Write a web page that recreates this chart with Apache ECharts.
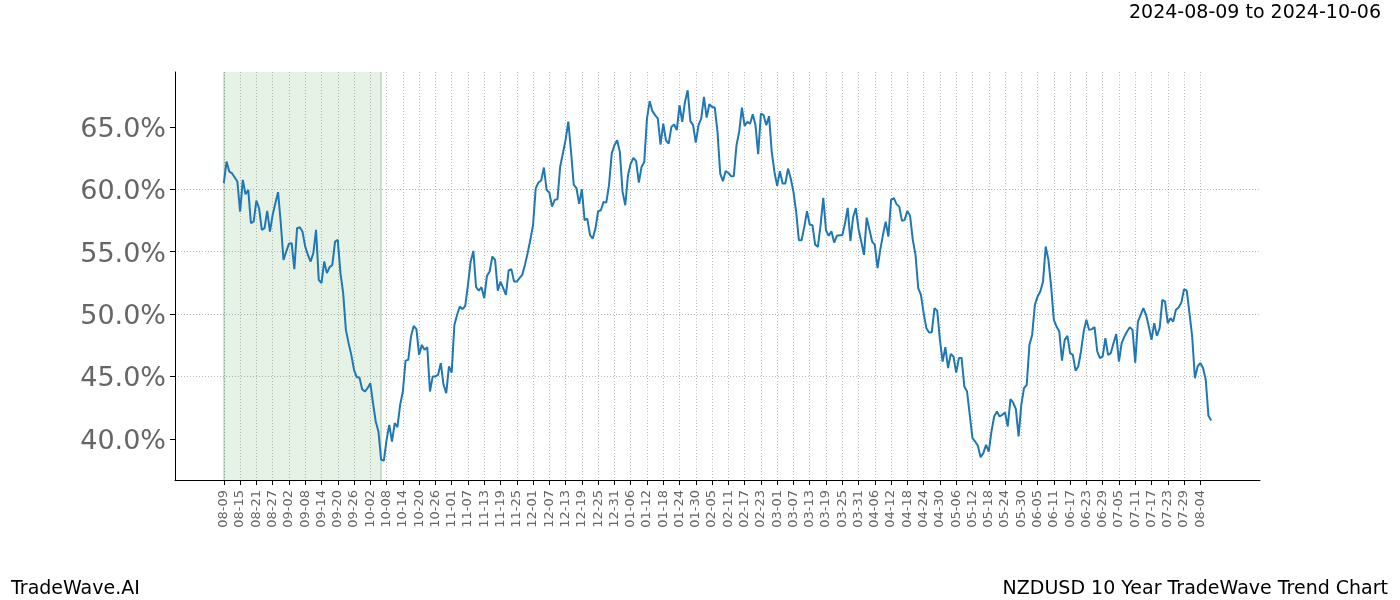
<!DOCTYPE html>
<html>
<head>
<meta charset="utf-8">
<script src="https://cdn.jsdelivr.net/npm/echarts@6/dist/echarts.min.js"></script>
<style>html,body{margin:0;padding:0;background:#fff}#c{width:1400px;height:600px}</style>
</head>
<body>
<div id="c"></div>
<script>
// Axis range (calendar days, with margins before/after the data)
const axisStart = '2024-07-22';
const axisEnd = '2025-08-26';
const dataStart = '2024-08-09';
const bandStart = '2024-08-09';
const bandEnd = '2024-10-06';

// Tick labels on the x axis (every 6 days)
const tickDates = [
 '2024-08-09','2024-08-15','2024-08-21','2024-08-27','2024-09-02','2024-09-08','2024-09-14','2024-09-20','2024-09-26',
 '2024-10-02','2024-10-08','2024-10-14','2024-10-20','2024-10-26','2024-11-01','2024-11-07','2024-11-13','2024-11-19',
 '2024-11-25','2024-12-01','2024-12-07','2024-12-13','2024-12-19','2024-12-25','2024-12-31','2025-01-06','2025-01-12',
 '2025-01-18','2025-01-24','2025-01-30','2025-02-05','2025-02-11','2025-02-17','2025-02-23','2025-03-01','2025-03-07',
 '2025-03-13','2025-03-19','2025-03-25','2025-03-31','2025-04-06','2025-04-12','2025-04-18','2025-04-24','2025-04-30',
 '2025-05-06','2025-05-12','2025-05-18','2025-05-24','2025-05-30','2025-06-05','2025-06-11','2025-06-17','2025-06-23',
 '2025-06-29','2025-07-05','2025-07-11','2025-07-17','2025-07-23','2025-07-29','2025-08-04'
];

// Y tick labels
const yTicks = [40, 45, 50, 55, 60, 65];

// Daily trend values (%) from 2024-08-09
const values = [
 60.49,62.22,61.42,61.29,null,60.62,58.21,60.75,59.6,59.95,
 57.28,57.41,59.09,58.48,56.75,56.88,58.27,56.61,57.95,58.88,
 59.77,57.28,54.34,55.01,55.63,55.68,53.6,56.88,56.96,56.61,
 55.41,54.74,54.21,54.88,56.75,52.74,52.48,54.21,53.28,53.76,
 53.94,55.81,55.95,53.28,51.67,48.73,47.67,46.73,45.53,44.94,
 44.91,43.98,43.79,44.06,44.46,42.86,41.39,40.59,38.32,38.26,
 39.92,41.12,39.78,41.26,40.94,42.72,43.79,46.27,46.33,48.2,
 49.05,48.79,46.73,47.53,47.13,47.35,43.79,45.0,45.0,45.13,
 46.07,44.33,43.66,45.8,45.31,49.13,49.94,50.6,50.39,50.66,
 52.34,54.21,55.06,52.15,51.88,52.15,51.27,53.06,53.41,54.61,
 54.34,51.88,52.6,52.07,51.54,53.49,53.6,52.6,52.6,52.88,
 53.14,53.94,54.88,55.95,57.15,60.09,60.54,60.7,61.74,59.95,
 59.74,58.61,59.15,59.2,61.82,62.89,63.96,65.43,63.03,60.35,
 60.09,58.83,60.0,57.52,57.65,56.32,56.05,56.85,58.24,58.32,
 58.99,58.93,60.33,62.86,63.53,63.93,63.0,59.79,58.72,61.13,
 62.06,62.52,62.25,60.54,61.79,62.2,65.67,67.06,66.26,65.94,
 65.67,63.58,65.26,63.93,63.66,65.0,65.19,64.74,66.74,65.4,
 67.0,67.94,65.46,65.14,63.74,65.14,65.67,67.4,65.75,66.82,
 66.6,66.55,64.6,61.26,60.65,61.47,61.31,61.05,61.05,63.53,
 64.6,66.55,65.08,65.4,65.26,66.02,65.14,62.81,66.07,65.94,
 65.14,65.86,63.0,61.39,60.27,61.45,60.46,60.46,61.66,60.86,
 59.79,58.19,55.92,55.92,56.99,58.24,57.17,57.12,55.57,55.38,
 57.12,59.31,56.72,56.27,56.64,55.73,56.27,56.32,56.32,57.25,
 58.51,55.86,57.76,58.49,56.8,55.81,54.74,57.73,56.8,55.81,
 55.55,53.68,55.14,56.35,57.41,56.21,59.15,59.29,58.81,58.61,
 57.47,57.55,58.27,57.87,55.95,54.74,52.07,51.54,50.07,48.87,
 48.52,48.55,50.47,50.27,47.93,46.19,47.35,45.67,46.81,46.6,
 45.31,46.47,46.47,44.19,43.79,41.92,40.05,39.78,39.44,38.53,
 38.85,39.52,38.98,40.59,41.79,42.19,41.79,41.92,42.11,40.99,
 43.18,42.91,42.38,40.19,42.72,44.06,44.33,47.53,48.33,50.74,
 51.4,51.8,52.6,55.41,54.34,52.2,49.54,49.0,48.6,46.27,
 47.93,48.25,46.87,46.73,45.47,45.8,47.0,48.6,49.54,48.73,
 48.79,48.95,47.0,46.47,46.6,48.07,46.73,46.87,47.67,48.39,
 46.19,47.67,48.2,48.6,48.95,48.73,46.11,49.4,49.94,50.47,
 49.94,49.0,47.93,49.27,48.25,48.87,51.14,51.0,49.27,49.67,
 49.4,50.34,50.52,50.92,51.99,51.88,50.07,48.2,44.86,45.8,
 46.07,45.67,44.73,41.84,41.47
];

// Build calendar categories
function dayList(a, b) {
  const out = [];
  let t = Date.parse(a + 'T00:00:00Z');
  const e = Date.parse(b + 'T00:00:00Z');
  while (t <= e) { out.push(new Date(t).toISOString().slice(0, 10)); t += 86400000; }
  return out;
}
const categories = dayList(axisStart, axisEnd);
const offset = categories.indexOf(dataStart);
const seriesData = categories.map((d, i) => {
  const k = i - offset;
  return (k >= 0 && k < values.length) ? values[k] : null;
});
const tickSet = new Set(tickDates);
const isTick = (i, v) => tickSet.has(v);

const FONT = 'DejaVu Sans';
const chart = echarts.init(document.getElementById('c'), null, { renderer: 'canvas' });
chart.setOption({
  animation: false,
  backgroundColor: '#fff',
  grid: { left: 175, right: 140, top: 72, bottom: 120, containLabel: false },
  title: [
    { text: '2024-08-09 to 2024-10-06', right: 14, top: -1,
      textStyle: { fontSize: 19, fontWeight: 'normal', color: '#000', fontFamily: FONT } },
    { text: 'TradeWave.AI', left: 6, top: 575,
      textStyle: { fontSize: 19, fontWeight: 'normal', color: '#000', fontFamily: FONT } },
    { text: 'NZDUSD 10 Year TradeWave Trend Chart', right: 7, top: 575,
      textStyle: { fontSize: 19, fontWeight: 'normal', color: '#000', fontFamily: FONT } }
  ],
  xAxis: {
    type: 'category', data: categories, boundaryGap: false,
    axisLine: { show: true, lineStyle: { color: '#000', width: 1 } },
    axisTick: { show: true, interval: isTick, length: 5, lineStyle: { color: '#000', width: 1 } },
    axisLabel: { interval: isTick, rotate: 90, fontSize: 13, color: '#666', fontFamily: FONT, margin: 10,
      formatter: v => v.slice(5) },
    splitLine: { show: true, interval: isTick, lineStyle: { color: '#aaa', width: 0.8, type: [1, 2] } }
  },
  yAxis: {
    type: 'value', min: 36.7, max: 69.4,
    axisLine: { show: true, lineStyle: { color: '#000', width: 1 } },
    axisTick: { show: true, length: 5, lineStyle: { color: '#000' }, customValues: yTicks },
    axisLabel: { fontSize: 27, color: '#666', fontFamily: FONT, margin: 9, customValues: yTicks,
      rich: { t: { fontSize: 27, color: '#666', fontFamily: FONT, padding: [6, 0, 0, 0] } },
      formatter: v => (Math.abs(v / 5 - Math.round(v / 5)) < 1e-6) ? '{t|' + v.toFixed(1) + '%}' : '' },
    splitLine: { show: true, showMinLine: false, showMaxLine: false,
      lineStyle: { color: '#aaa', width: 0.8, type: [1, 2] } }
  },
  series: [{
    type: 'line', data: seriesData, connectNulls: true, showSymbol: false, symbol: 'none',
    lineStyle: { color: '#1f77b4', width: 2 }, z: 5,
    markArea: { silent: true, itemStyle: { color: 'rgba(0,128,0,0.1)' },
      data: [[{ xAxis: bandStart }, { xAxis: bandEnd }]] },
    markLine: { silent: true, symbol: 'none', label: { show: false },
      lineStyle: { color: 'rgba(0,70,0,0.15)', width: 2, type: 'solid' },
      data: [{ xAxis: bandStart }, { xAxis: bandEnd }] }
  }]
});
</script>
</body>
</html>
